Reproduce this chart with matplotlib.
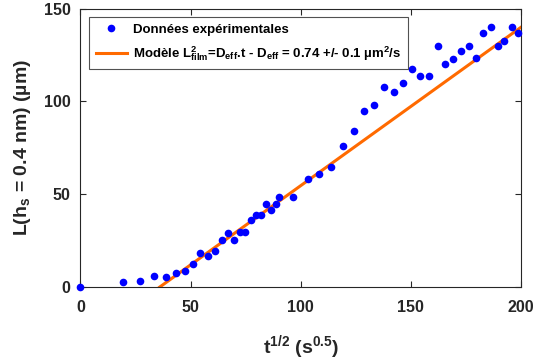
import matplotlib
matplotlib.use("Agg")
import matplotlib.pyplot as plt
import numpy as np

# donnees
t_sqrt = [0, 19.4, 27.2, 33.6, 39.0, 43.2, 47.3, 51.0, 54.5, 57.8, 61.3, 64.2,
          67.2, 69.6, 72.6, 74.9, 77.5, 79.7, 82.0, 84.3, 86.3, 88.8, 90.3, 96.7,
          103.1, 108.4, 113.7, 119.2, 124.2, 128.9, 133.3, 137.8, 142.3, 146.4,
          150.3, 154.1, 158.1, 162.2, 165.7, 169.2, 172.9, 176.2, 179.7, 182.9,
          186.5, 189.5, 192.5, 195.8, 198.6]
L_film = [0, 2.7, 3.2, 5.8, 5.6, 7.6, 8.6, 12.6, 18.3, 16.6, 19.4, 25.6,
          29.1, 25.2, 29.5, 29.5, 36.0, 38.7, 38.7, 44.6, 41.4, 44.6, 48.6, 48.6,
          58.0, 60.8, 64.8, 75.9, 84.2, 95.0, 97.9, 107.9, 104.9, 109.8,
          117.3, 113.7, 113.7, 129.9, 120.2, 122.8, 127.0, 130.0, 123.2, 136.8,
          140.0, 130.1, 132.8, 140.0, 136.9]

fit_x = [36, 200]
fit_y = [0, 140]

plt.rcParams['font.family'] = ['Liberation Sans', 'DejaVu Sans']
plt.rcParams['font.weight'] = 'bold'
plt.rcParams['mathtext.fontset'] = 'custom'
plt.rcParams['mathtext.rm'] = 'Liberation Sans:bold'
plt.rcParams['mathtext.it'] = 'Liberation Sans:bold'
plt.rcParams['mathtext.bf'] = 'Liberation Sans:bold'
plt.rcParams['mathtext.default'] = 'rm'

fig = plt.figure(figsize=(5.36, 3.62), dpi=100)
ax = fig.add_axes([0.150, 0.207, 0.822, 0.769])

ax.plot(t_sqrt, L_film, 'o', color='#0000ff', markersize=5.5, markeredgewidth=0,
        label='Données expérimentales', clip_on=False, zorder=3)
ax.plot(fit_x, fit_y, '-', color='#ff6a00', linewidth=2.2,
        label='Modèle L$^2_{film}$=D$_{eff}$.t - D$_{eff}$ = 0.74 +/- 0.1 µm$^2$/s')

ax.set_xlim(0, 200)
ax.set_ylim(0, 150)
ax.set_xticks([0, 50, 100, 150, 200])
ax.set_yticks([0, 50, 100, 150])
ax.tick_params(direction='in', top=True, right=True, labelsize=11.5, length=4,
               width=0.8, colors='#262626')
ax.tick_params(axis='x', pad=9)
ax.tick_params(axis='y', pad=7)
for lab in ax.get_xticklabels() + ax.get_yticklabels():
    lab.set_fontweight('bold')
for s in ax.spines.values():
    s.set_color('#262626')
    s.set_linewidth(0.8)

ax.set_xlabel('t$^{1/2}$ (s$^{0.5}$)', fontsize=14, fontweight='bold',
              color='#262626', labelpad=13)
ax.set_ylabel('L(h$_s$ = 0.4 nm) (µm)', fontsize=14, fontweight='bold',
              color='#262626', labelpad=8)

leg = ax.legend(loc='upper left', fontsize=9.5, frameon=True, fancybox=False,
                edgecolor='#262626', borderaxespad=0.65, handlelength=2.4,
                markerscale=1.0, labelspacing=0.6, handletextpad=0.4,
                borderpad=0.5)
leg.get_frame().set_linewidth(0.8)
for txt in leg.get_texts():
    txt.set_fontweight('bold')

fig.savefig('out.png', dpi=100)
